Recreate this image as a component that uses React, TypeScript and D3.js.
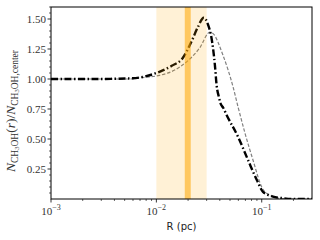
import React from "react";
import * as d3 from "d3";

const blackR = [0.001, 0.002, 0.003, 0.004, 0.0056, 0.0074, 0.0107, 0.014, 0.0178, 0.0215, 0.0247, 0.0282, 0.031, 0.0334, 0.0359, 0.0373, 0.0395, 0.0405, 0.0431, 0.0464, 0.0595, 0.0741, 0.0896, 0.1028, 0.128, 0.155, 0.2, 0.3];
const blackV = [1.0, 1.0, 1.0, 1.002, 1.005, 1.017, 1.06, 1.11, 1.175, 1.31, 1.43, 1.51, 1.45, 1.34, 1.12, 0.95, 0.84, 0.8, 0.76, 0.7, 0.52, 0.325, 0.16, 0.06, 0.02, 0.008, 0.0, 0.0];
const grayR = [0.001, 0.003, 0.0056, 0.0069, 0.0107, 0.0167, 0.0258, 0.0322, 0.0344, 0.0428, 0.0536, 0.0599, 0.0693, 0.0826, 0.1, 0.12, 0.149, 0.2, 0.3];
const grayV = [1.0, 1.0, 1.0, 1.01, 1.03, 1.1, 1.26, 1.39, 1.38, 1.2, 0.93, 0.76, 0.55, 0.325, 0.1, 0.03, 0.005, 0.0, 0.0];
const lightBand = [0.01, 0.03];
const darkBand = [0.0186, 0.0212];
const yMajor = [0.25, 0.5, 0.75, 1.0, 1.25, 1.5];
const yMajorLabels = ["0.25", "0.50", "0.75", "1.00", "1.25", "1.50"];
const xMajor = [0.001, 0.01, 0.1];
const xMajorExp = ["−3", "−2", "−1"];

const L = 51, R = 312, T = 7, B = 199;

export default function App() {
  const x = d3.scaleLog().domain([0.001, 0.3]).range([L, R]);
  const y = d3.scaleLinear().domain([0, 1.6]).range([B, T]);
  const line = d3.line<[number, number]>().x(d => x(d[0])).y(d => y(d[1])).curve(d3.curveMonotoneX);
  const blackPts = blackR.map((r, i) => [r, blackV[i]] as [number, number]);
  const grayPts = grayR.map((r, i) => [r, grayV[i]] as [number, number]);
  const yMinor: number[] = [];
  for (let k = 1; k <= 32; k++) { const v = k * 0.05; if (k % 5 !== 0) yMinor.push(v); }
  const xMinor: number[] = [];
  for (let e = -3; e <= -1; e++) for (let m = 2; m <= 9; m++) { const v = m * Math.pow(10, e); if (v <= 0.3) xMinor.push(v); }
  const serif = "Liberation Serif";
  return (
    <svg width={320} height={240} style={{ position: "absolute", left: 0, top: 0 }}>
      <rect x={0} y={0} width={320} height={240} fill="white" />
      <defs>
        <clipPath id="clip"><rect x={L} y={T} width={R - L} height={B - T} /></clipPath>
      </defs>
      <g clipPath="url(#clip)">
        <path d={line(grayPts) || ""} fill="none" stroke="#808080" strokeWidth={1.2} strokeDasharray="3.5,1.8" />
        <path d={line(blackPts) || ""} fill="none" stroke="black" strokeWidth={2.4} strokeDasharray="7,2.5,1.5,2.5" />
        <rect x={x(lightBand[0])} y={T} width={x(lightBand[1]) - x(lightBand[0])} height={B - T} fill="#FFA500" fillOpacity={0.16} />
        <rect x={x(darkBand[0])} y={T} width={x(darkBand[1]) - x(darkBand[0])} height={B - T} fill="#FFA500" fillOpacity={0.55} />
      </g>
      <rect x={L} y={T} width={R - L} height={B - T} fill="none" stroke="black" strokeWidth={1} />
      {yMajor.map((v, i) => (
        <g key={"ym" + i}>
          <line x1={L - 3.5} x2={L} y1={y(v)} y2={y(v)} stroke="black" strokeWidth={0.8} />
          <text x={L - 5} y={y(v) + 3.8} textAnchor="end" style={{ fontFamily: serif }} fontSize={11} fill="#333">{yMajorLabels[i]}</text>
        </g>
      ))}
      {yMinor.map((v, i) => (
        <line key={"yn" + i} x1={L - 2} x2={L} y1={y(v)} y2={y(v)} stroke="black" strokeWidth={0.6} />
      ))}
      {xMajor.map((v, i) => (
        <g key={"xm" + i}>
          <line x1={x(v)} x2={x(v)} y1={B} y2={B + 3.5} stroke="black" strokeWidth={0.8} />
          <text x={x(v)} y={B + 16} textAnchor="middle" style={{ fontFamily: serif }} fontSize={11} fill="#333">
            10<tspan dy={-5} fontSize={8}>{xMajorExp[i]}</tspan>
          </text>
        </g>
      ))}
      {xMinor.map((v, i) => (
        <line key={"xn" + i} x1={x(v)} x2={x(v)} y1={B} y2={B + 2} stroke="black" strokeWidth={0.6} />
      ))}
      <text x={(L + R) / 2} y={230} textAnchor="middle" style={{ fontFamily: "DejaVu Sans" }} fontSize={10} fill="#222">R (pc)</text>
      <text transform={`translate(15,${(T + B) / 2 + 8}) rotate(-90)`} textAnchor="middle" style={{ fontFamily: serif }} fontSize={13.5} fill="#333">
        <tspan fontStyle="italic">N</tspan>
        <tspan fontSize={9.5} dy={2.5}>CH</tspan>
        <tspan fontSize={6.5} dy={1.5}>3</tspan>
        <tspan fontSize={9.5} dy={-1.5}>OH</tspan>
        <tspan dy={-2.5}>(</tspan>
        <tspan fontStyle="italic">r</tspan>
        <tspan>)/</tspan>
        <tspan fontStyle="italic">N</tspan>
        <tspan fontSize={9.5} dy={2.5}>CH</tspan>
        <tspan fontSize={6.5} dy={1.5}>3</tspan>
        <tspan fontSize={9.5} dy={-1.5}>OH,center</tspan>
      </text>
    </svg>
  );
}
